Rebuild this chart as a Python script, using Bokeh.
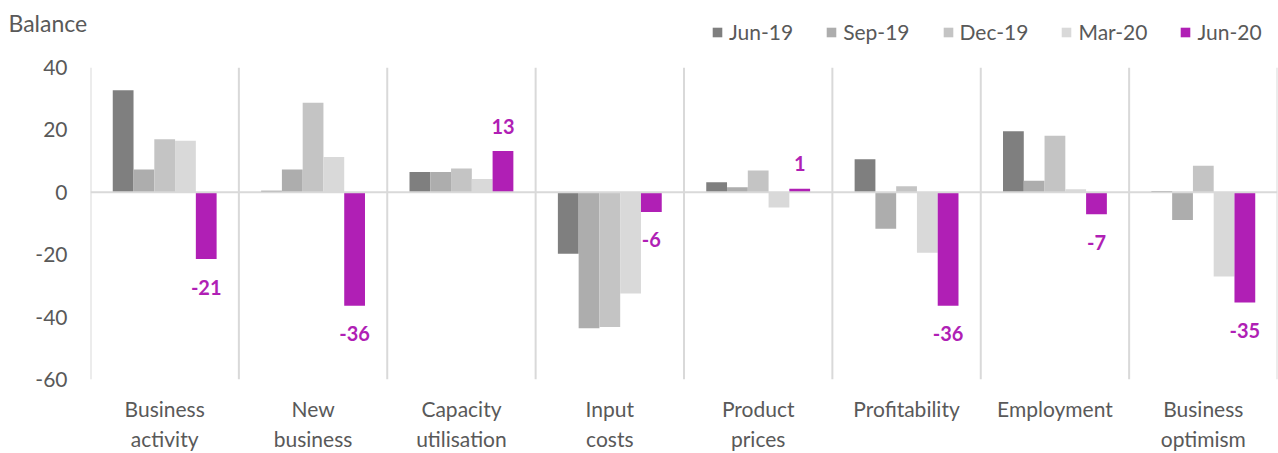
from bokeh.plotting import figure
from bokeh.layouts import column
from bokeh.models import (ColumnDataSource, FactorRange, Range1d, Span, Legend,
                          LegendItem, Label, FixedTicker)
from bokeh.transform import dodge
from bokeh.core.properties import value
from bokeh.embed import file_html
from bokeh.resources import INLINE

categories = ["Business\nactivity", "New\nbusiness", "Capacity\nutilisation",
              "Input\ncosts", "Product\nprices", "Profitability", "Employment",
              "Business\noptimism"]
series_names = ["Jun-19", "Sep-19", "Dec-19", "Mar-20", "Jun-20"]
jun19 = [32.7, 0.5, 6.5, -19.7, 3.2, 10.6, 19.6, 0.4]
sep19 = [7.3, 7.3, 6.5, -43.6, 1.6, -11.7, 3.7, -8.9]
dec19 = [17.0, 28.7, 7.6, -43.2, 7.0, 1.9, 18.1, 8.5]
mar20 = [16.5, 11.3, 4.3, -32.4, -4.9, -19.4, 1.0, -27.0]
jun20 = [-21.4, -36.4, 13.2, -6.3, 1.1, -36.4, -7.0, -35.3]
y_ticks = [-60, -40, -20, 0, 20, 40]
y_title = "Balance"

colors = ["#7F7F7F", "#ADADAD", "#C4C4C4", "#D9D9D9", "#B01FB5"]
text_color = "#595959"
FONT = "Lato"

series = [jun19, sep19, dec19, mar20, jun20]
data = {"cat": categories}
for name, vals in zip(series_names, series):
    data[name] = vals
src = ColumnDataSource(data)

x_range = FactorRange(*categories, range_padding=0)
y_range = Range1d(min(y_ticks), max(y_ticks))

# ---------------- main chart ----------------
p = figure(width=1278, height=403, x_range=x_range, y_range=y_range,
           output_backend="svg", toolbar_location=None,
           min_border_left=90, min_border_right=1, min_border_top=17,
           min_border_bottom=73)
p.frame_align = False
p.outline_line_color = None
p.xgrid.visible = False
p.ygrid.visible = False

for i in range(len(categories) + 1):
    p.add_layout(Span(location=i, dimension="height", line_color="#D9D9D9",
                      line_width=2, level="underlay"))

bar_w = 0.14
offsets = [(k - 2) * bar_w for k in range(5)]
for k, name in enumerate(series_names):
    p.vbar(x=dodge("cat", offsets[k], range=x_range), top=name, bottom=0,
           width=bar_w, source=src, fill_color=colors[k], line_color=None)

p.add_layout(Span(location=0, dimension="width", line_color="#D9D9D9", line_width=2))

lab_src = ColumnDataSource({
    "cat": categories,
    "y": jun20,
    "text": [f"{v:.0f}" for v in jun20],
    "yoff": [28 if v < 0 else -25 for v in jun20],
})
p.text(x=dodge("cat", offsets[4], range=x_range), y="y", text="text",
       y_offset="yoff", source=lab_src, text_align="center", text_baseline="middle",
       text_font=value(FONT), text_font_style="bold", text_font_size="20px",
       text_color=colors[4])

p.yaxis.ticker = FixedTicker(ticks=y_ticks)
p.yaxis.major_label_overrides = {t: str(t) for t in y_ticks}
for ax in (p.xaxis, p.yaxis):
    ax.axis_line_color = None
    ax.major_tick_line_color = None
    ax.minor_tick_line_color = None
    ax.major_tick_out = 0
    ax.major_tick_in = 0
    ax.major_label_text_font = FONT
    ax.major_label_text_font_size = "21px"
    ax.major_label_text_color = text_color
p.yaxis.major_label_standoff = 23
p.xaxis.major_label_standoff = 16
p.xaxis.major_label_text_line_height = 1.2

# ---------------- header (title + legend) ----------------
h = figure(width=1278, height=50, x_range=x_range, y_range=y_range,
           output_backend="svg", toolbar_location=None,
           x_axis_location=None, y_axis_location=None,
           min_border_left=0, min_border_right=0, min_border_top=0,
           min_border_bottom=0)
h.frame_align = False
h.outline_line_color = None
h.grid.visible = False
leg_renderers = []
for k, name in enumerate(series_names):
    r = h.vbar(x=dodge("cat", offsets[k], range=x_range), top=name, bottom=0,
               width=bar_w, source=src, fill_color=colors[k], line_color=None)
    r.visible = False
    leg_renderers.append(r)

h.add_layout(Label(x=8, y=28, x_units="screen", y_units="screen", text=y_title,
                   text_font=FONT, text_font_size="23px", text_color=text_color,
                   text_baseline="middle"))

legend = Legend(items=[LegendItem(label=n, renderers=[r])
                       for n, r in zip(series_names, leg_renderers)],
                orientation="horizontal", location=(711, 6), click_policy="none",
                glyph_width=12, glyph_height=12, label_standoff=6, spacing=32,
                padding=0, margin=0, border_line_color=None, background_fill_alpha=0,
                label_text_font=FONT, label_text_font_size="21px",
                label_text_color=text_color, label_height=20)
h.add_layout(legend)

layout = column(h, p, spacing=0)
open("out.html", "w").write(file_html(layout, INLINE))
